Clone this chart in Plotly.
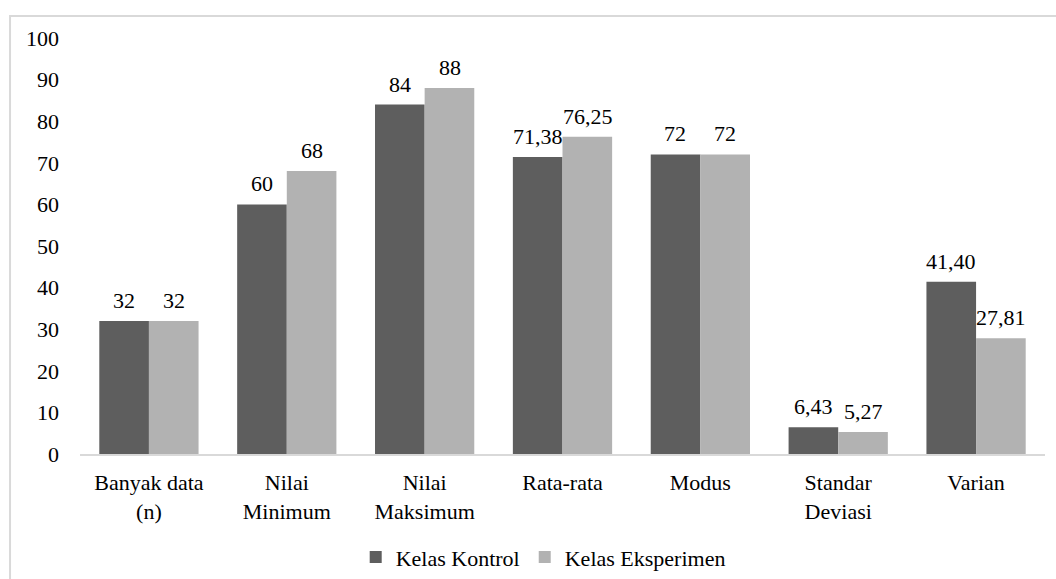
import plotly.graph_objects as go

categories = ["Banyak data<br>(n)", "Nilai<br>Minimum", "Nilai<br>Maksimum", "Rata-rata",
              "Modus", "Standar<br>Deviasi", "Varian"]
kontrol = [32, 60, 84, 71.38, 72, 6.43, 41.40]
eksperimen = [32, 68, 88, 76.25, 72, 5.27, 27.81]
y_ticks = [0, 10, 20, 30, 40, 50, 60, 70, 80, 90, 100]


def fmt(v):
    if float(v).is_integer():
        return str(int(v))
    return f"{v:.2f}".replace(".", ",")


FONT = "'Liberation Serif', 'DejaVu Serif', serif"
FS = 22

fig = go.Figure()
fig.add_trace(go.Bar(
    x=categories, y=kontrol, name="Kelas Kontrol",
    marker=dict(color="#5e5e5e", line=dict(width=0)),
))
fig.add_trace(go.Bar(
    x=categories, y=eksperimen, name="Kelas Eksperimen",
    marker=dict(color="#b2b2b2", line=dict(width=0)),
))

annotations = []
for series, shift in ((kontrol, -25), (eksperimen, 25)):
    for c, v in zip(categories, series):
        annotations.append(dict(x=c, y=v, xref="x", yref="y", text=fmt(v),
                                showarrow=False, xanchor="center", yanchor="bottom",
                                xshift=shift, yshift=6,
                                font=dict(family=FONT, size=FS, color="#000000")))

fig.update_layout(
    width=1056, height=579,
    margin=dict(l=80, r=11, t=38, b=125, autoexpand=False),
    paper_bgcolor="white", plot_bgcolor="white",
    font=dict(family=FONT, size=FS, color="#000000"),
    barmode="group", bargap=0.28, bargroupgap=0,
    showlegend=True,
    legend=dict(orientation="h", x=0.48, xanchor="center", y=-0.248, yanchor="middle",
                font=dict(family=FONT, size=FS, color="#000000"),
                itemwidth=30, traceorder="normal"),
    annotations=annotations,
    shapes=[dict(type="rect", xref="paper", yref="paper",
                 x0=-0.0725, x1=1.05, y0=-0.5, y1=1.0529,
                 line=dict(color="#d9d9d9", width=2), fillcolor="rgba(0,0,0,0)",
                 layer="below")],
)
fig.update_xaxes(showline=True, linecolor="#d9d9d9", linewidth=1.5, showgrid=False,
                 automargin=False, ticks="", ticklabelstandoff=8,
                 tickfont=dict(family=FONT, size=FS, color="#000000"))
fig.update_yaxes(range=[0, 100], tickvals=y_ticks, showgrid=False, zeroline=False,
                 automargin=False, showline=False, ticks="", ticklabelstandoff=20,
                 tickfont=dict(family=FONT, size=FS, color="#000000"))

fig.write_html("out.html")
